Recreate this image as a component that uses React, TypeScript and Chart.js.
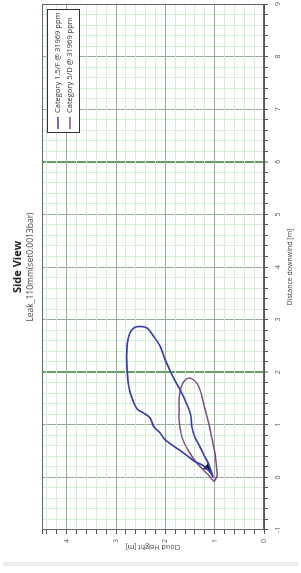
import React, { useEffect, useRef } from 'react';
import { Chart, registerables } from 'chart.js';

Chart.register(...registerables);

const chartTitle = 'Side View';
const chartSubtitle = 'Leak_110mm(set0.0013bar)';
const xAxisTitle = 'Distance downwind [m]';
const yAxisTitle = 'Cloud Height [m]';
const seriesLabels = ['Category 1.5/F @ 31969 ppm', 'Category 5/D @ 31969 ppm'];
const seriesColors = ['#3b3fae', '#7f4d86'];

const distanceMin = -1;
const distanceMax = 9;
const heightMin = 0;
const heightMax = 4.5;
const minorStep = 0.2;
const emphasisedDistances = [2, 6];

// Category 1.5/F outline (distance downwind, cloud height)
const blueDistance = [0.0, 0.25, 0.43, 0.59, 0.76, 0.95, 1.15, 1.29, 1.47, 1.66, 1.85, 2.04, 2.25, 2.5, 2.7, 2.84, 2.87, 2.84, 2.74, 2.61, 2.42, 2.14, 1.85, 1.63, 1.42, 1.29, 1.23, 1.13, 0.96, 0.85, 0.72, 0.62, 0.51, 0.4, 0.3, 0.23, 0.11, 0.0];
const blueHeight = [1.03, 1.12, 1.22, 1.3, 1.4, 1.46, 1.48, 1.52, 1.6, 1.7, 1.81, 1.91, 2.01, 2.11, 2.25, 2.37, 2.52, 2.64, 2.72, 2.76, 2.78, 2.78, 2.76, 2.72, 2.64, 2.56, 2.45, 2.31, 2.23, 2.11, 2.01, 1.87, 1.7, 1.54, 1.4, 1.24, 1.1, 1.03];

// Category 5/D outline
const purpleDistance = [-0.08, 0.04, 0.25, 0.43, 0.62, 0.85, 1.1, 1.32, 1.55, 1.72, 1.83, 1.89, 1.85, 1.72, 1.53, 1.29, 1.06, 0.83, 0.66, 0.49, 0.32, 0.17, 0.06, -0.04, -0.08];
const purpleHeight = [1.01, 0.95, 0.97, 0.99, 1.03, 1.08, 1.14, 1.2, 1.26, 1.32, 1.4, 1.5, 1.6, 1.68, 1.72, 1.72, 1.72, 1.68, 1.62, 1.52, 1.4, 1.26, 1.14, 1.05, 1.01];

// release marker
const sourceDistance = [0.19];
const sourceHeight = [1.15];

const FONT = '"Open Sans", "DejaVu Sans", sans-serif';
const W = 560;
const H = 301;

const isWhole = (v: number) => Math.abs(v - Math.round(v)) < 1e-6;

function buildTickValues(min: number, max: number, step: number): number[] {
  const out: number[] = [];
  const n = Math.floor((max - min) / step + 1e-9);
  for (let i = 0; i <= n; i++) out.push(Math.round((min + i * step) * 1000) / 1000);
  if (out[out.length - 1] < max - 1e-9) out.push(max);
  return out;
}

const distanceTickValues = buildTickValues(distanceMin, distanceMax, minorStep);
const heightTickValues = buildTickValues(heightMin, heightMax, minorStep);

const toPoints = (xs: number[], ys: number[]) => xs.map((x, i) => ({ x, y: ys[i] }));

const frameAndLegend = {
  id: 'frameAndLegend',
  afterDraw(chart: any) {
    const { ctx, chartArea } = chart;
    ctx.save();
    ctx.strokeStyle = '#666';
    ctx.lineWidth = 1;
    ctx.strokeRect(
      Math.round(chartArea.left) + 0.5,
      Math.round(chartArea.top) + 0.5,
      Math.round(chartArea.right - chartArea.left) - 1,
      Math.round(chartArea.bottom - chartArea.top) - 1
    );

    ctx.font = `7.5px ${FONT}`;
    const maxW = Math.max(...seriesLabels.map((t) => ctx.measureText(t).width));
    const right = Math.round(chartArea.right) - 5;
    const top = Math.round(chartArea.top) + 5;
    const boxW = Math.round(maxW + 24);
    const boxH = 33;
    const left = right - boxW;
    ctx.fillStyle = '#ffffff';
    ctx.fillRect(left, top, boxW, boxH);
    ctx.strokeStyle = '#333';
    ctx.strokeRect(left + 0.5, top + 0.5, boxW - 1, boxH - 1);
    seriesLabels.forEach((label, i) => {
      const y = top + 11 + i * 12;
      ctx.strokeStyle = seriesColors[i];
      ctx.lineWidth = 1.5;
      ctx.beginPath();
      ctx.moveTo(left + 4, y);
      ctx.lineTo(left + 16, y);
      ctx.stroke();
      ctx.fillStyle = '#333';
      ctx.textBaseline = 'middle';
      ctx.textAlign = 'left';
      ctx.fillText(label, left + 20, y);
    });
    ctx.restore();
  },
};

export default function App() {
  const canvasRef = useRef<HTMLCanvasElement | null>(null);

  useEffect(() => {
    if (!canvasRef.current) return;
    const distanceGridColor = (ctx: any) => {
      const v = ctx.tick ? ctx.tick.value : 0;
      if (emphasisedDistances.some((d) => Math.abs(d - v) < 1e-6)) return '#67a067';
      if (isWhole(v)) return '#98ad98';
      return '#d3efd3';
    };
    const distanceGridWidth = (ctx: any) => {
      const v = ctx.tick ? ctx.tick.value : 0;
      return emphasisedDistances.some((d) => Math.abs(d - v) < 1e-6) ? 2 : 1;
    };
    const heightGridColor = (ctx: any) => {
      const v = ctx.tick ? ctx.tick.value : 0;
      return isWhole(v) ? '#98ad98' : '#d3efd3';
    };

    const chart = new Chart(canvasRef.current, {
      type: 'scatter',
      data: {
        datasets: [
          {
            label: seriesLabels[0],
            data: toPoints(blueDistance, blueHeight),
            showLine: true,
            borderColor: seriesColors[0],
            borderWidth: 1.7,
            pointRadius: 0,
            tension: 0.3,
            fill: false,
          },
          {
            label: seriesLabels[1],
            data: toPoints(purpleDistance, purpleHeight),
            showLine: true,
            borderColor: seriesColors[1],
            borderWidth: 1.5,
            pointRadius: 0,
            tension: 0.3,
            fill: false,
          },
          {
            label: 'Source',
            data: toPoints(sourceDistance, sourceHeight),
            showLine: false,
            pointStyle: 'triangle',
            pointRadius: 4,
            rotation: 225,
            backgroundColor: '#111',
            borderColor: '#111',
            borderWidth: 1,
          },
        ],
      },
      options: {
        animation: false,
        responsive: false,
        devicePixelRatio: 1,
        layout: { padding: { left: 0, right: 6, top: 0, bottom: 0 } },
        plugins: {
          legend: { display: false },
          tooltip: { enabled: false },
          title: {
            display: true,
            text: chartTitle,
            fullSize: false,
            color: '#222',
            font: { size: 11, weight: 'bold', family: FONT },
            padding: { top: 11.5, bottom: 0.5 },
          },
          subtitle: {
            display: true,
            text: chartSubtitle,
            fullSize: false,
            color: '#444',
            font: { size: 8.5, family: FONT },
            padding: { top: 0, bottom: 6.6 },
          },
        },
        scales: {
          x: {
            type: 'linear',
            min: distanceMin,
            max: distanceMax,
            afterBuildTicks: (s: any) => {
              s.ticks = distanceTickValues.map((v) => ({ value: v }));
            },
            afterFit: (s: any) => {
              s.height = 37;
            },
            ticks: {
              autoSkip: false,
              maxRotation: 0,
              minRotation: 0,
              padding: 6,
              color: '#555',
              font: { size: 7, family: FONT },
              callback: (v: any) => (isWhole(Number(v)) ? String(Math.round(Number(v))) : ''),
            },
            grid: {
              color: distanceGridColor,
              lineWidth: distanceGridWidth,
              tickLength: 4,
              tickColor: '#555',
              tickWidth: 1,
            },
            border: { color: '#555', width: 1 },
            title: {
              display: true,
              text: xAxisTitle,
              color: '#444',
              font: { size: 7, family: FONT },
              padding: { top: 0, bottom: 6.8 },
            },
          },
          y: {
            type: 'linear',
            min: heightMin,
            max: heightMax,
            afterBuildTicks: (s: any) => {
              s.ticks = heightTickValues.map((v) => ({ value: v }));
            },
            afterFit: (s: any) => {
              s.width = 26;
            },
            ticks: {
              autoSkip: false,
              padding: 5,
              color: '#555',
              font: { size: 7, family: FONT },
              callback: (v: any) => (isWhole(Number(v)) ? String(Math.round(Number(v))) : ''),
            },
            grid: {
              color: heightGridColor,
              lineWidth: 1,
              tickLength: 4,
              tickColor: '#555',
              tickWidth: 1,
            },
            border: { color: '#555', width: 1 },
            title: {
              display: true,
              text: yAxisTitle,
              color: '#444',
              font: { size: 7, family: FONT },
              padding: { top: 4.8, bottom: 0 },
            },
          },
        },
      },
      plugins: [frameAndLegend],
    } as any);

    return () => chart.destroy();
  }, []);

  return (
    <div
      style={{
        position: 'fixed',
        left: 0,
        top: 0,
        width: 301,
        height: 573,
        overflow: 'hidden',
        background: '#ffffff',
      }}
    >
      <div
        style={{
          position: 'absolute',
          left: 0,
          top: 0,
          width: W,
          height: H,
          transformOrigin: '0 0',
          transform: 'translate(0px, 556px) rotate(-90deg)',
        }}
      >
        <canvas ref={canvasRef} width={W} height={H} style={{ display: 'block', width: W, height: H }} />
      </div>
      <div
        style={{
          position: 'absolute',
          left: 3,
          top: 562,
          width: 295,
          height: 4,
          background: '#ededed',
        }}
      />
    </div>
  );
}
